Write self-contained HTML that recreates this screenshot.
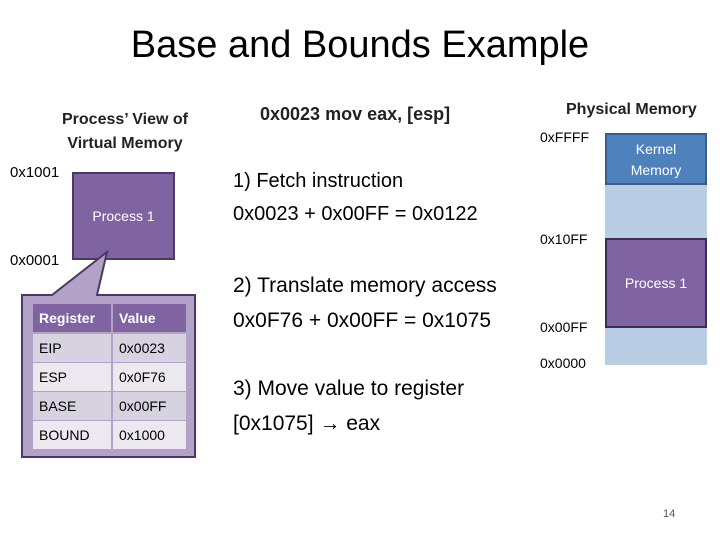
<!DOCTYPE html>
<html><head><style>
body{margin:0;width:720px;height:540px;background:#fff;position:relative;font-family:"Liberation Sans",sans-serif;overflow:hidden}
.a{position:absolute;white-space:nowrap}
.c{position:absolute;height:28px;line-height:28px;font-size:14px;padding-left:6px;box-sizing:border-box}
</style></head><body>
<div class="a" style="left:0;width:720px;top:24px;text-align:center;font-size:38px;color:#000">Base and Bounds Example</div>
<div class="a" style="left:40px;width:170px;top:108px;text-align:center;font-size:16px;font-weight:bold;color:#222;line-height:24px;white-space:normal">Process’ View of Virtual Memory</div>
<div class="a" style="left:260px;top:104px;font-size:18px;font-weight:bold;color:#222">0x0023 mov eax, [esp]</div>
<div class="a" style="left:566px;top:101px;font-size:16px;font-weight:bold;color:#222">Physical Memory</div>
<div class="a" style="left:10px;top:164px;font-size:15px">0x1001</div>
<div class="a" style="left:10px;top:252px;font-size:15px">0x0001</div>
<div class="a" style="left:72px;top:172px;width:99px;height:84px;background:#8064a2;border:2px solid #4a3a63;color:#fff;font-size:14px;display:flex;align-items:center;justify-content:center">Process 1</div>
<svg class="a" style="left:0;top:0" width="720" height="540">
<polygon points="22,295 52,295 107,252 97,295 195,295 195,457 22,457" fill="#b3a2c7" stroke="#4a3a63" stroke-width="2"/>
</svg>
<div class="c" style="left:33px;top:304px;width:78px;background:#8064a2;color:#fff;font-weight:bold">Register</div>
<div class="c" style="left:113px;top:304px;width:73px;background:#8064a2;color:#fff;font-weight:bold">Value</div>
<div class="c" style="left:33px;top:334px;width:78px;background:#d7d2e0">EIP</div>
<div class="c" style="left:113px;top:334px;width:73px;background:#d7d2e0">0x0023</div>
<div class="c" style="left:33px;top:363px;width:78px;background:#ebe8f0">ESP</div>
<div class="c" style="left:113px;top:363px;width:73px;background:#ebe8f0">0x0F76</div>
<div class="c" style="left:33px;top:392px;width:78px;background:#d7d2e0">BASE</div>
<div class="c" style="left:113px;top:392px;width:73px;background:#d7d2e0">0x00FF</div>
<div class="c" style="left:33px;top:421px;width:78px;background:#ebe8f0">BOUND</div>
<div class="c" style="left:113px;top:421px;width:73px;background:#ebe8f0">0x1000</div>
<div class="a" style="left:233px;top:165px;font-size:20px;line-height:33px">1) Fetch instruction<br>0x0023 + 0x00FF = 0x0122</div>
<div class="a" style="left:233px;top:268px;font-size:21px;line-height:35px">2) Translate memory access<br>0x0F76 + 0x00FF = 0x1075</div>
<div class="a" style="left:233px;top:371px;font-size:21px;line-height:35px">3) Move value to register<br>[0x1075] → eax</div>
<div class="a" style="left:605px;top:133px;width:102px;height:232px;background:#b9cde5"></div>
<div class="a" style="left:605px;top:133px;width:98px;background:#4f81bd;border:2px solid #385d8a;color:#fff;font-size:14px;text-align:center;line-height:21px;padding-top:4px;height:44px">Kernel<br>Memory</div>
<div class="a" style="left:605px;top:238px;width:98px;height:86px;background:#8064a2;border:2px solid #3b2f4d;color:#fff;font-size:14px;display:flex;align-items:center;justify-content:center">Process 1</div>
<div class="a" style="left:540px;top:129px;font-size:14px">0xFFFF</div>
<div class="a" style="left:540px;top:231px;font-size:14px">0x10FF</div>
<div class="a" style="left:540px;top:319px;font-size:14px">0x00FF</div>
<div class="a" style="left:540px;top:355px;font-size:14px">0x0000</div>
<div class="a" style="left:663px;top:508px;font-size:11px;color:#555">14</div>
</body></html>
